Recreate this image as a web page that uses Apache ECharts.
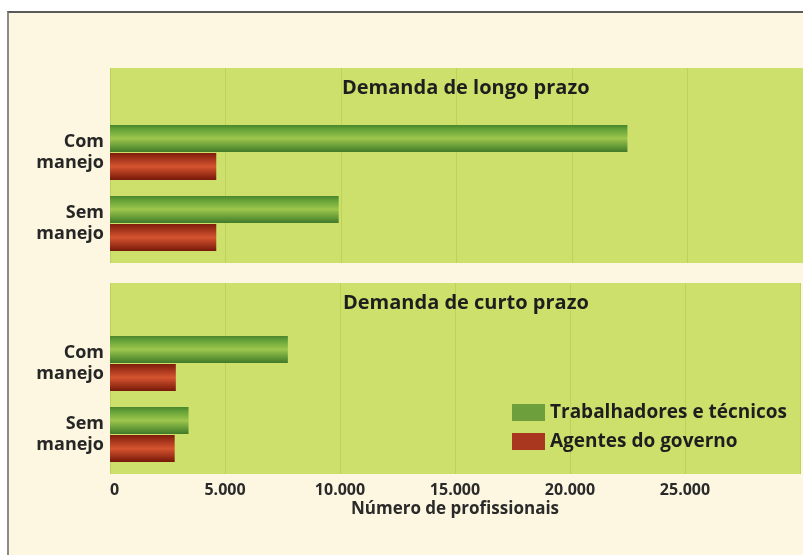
<!DOCTYPE html>
<html>
<head>
<meta charset="utf-8">
<script src="https://cdn.jsdelivr.net/npm/echarts@6/dist/echarts.min.js"></script>
<style>
html,body{margin:0;padding:0;background:#fff;}
#frame{position:absolute;left:7px;top:11px;width:796px;height:544px;background:#fdf7e1;border-top:2px solid #5a5a58;border-left:2px solid #8a8a86;}
#chart{position:absolute;left:0;top:0;width:803px;height:555px;}
</style>
</head>
<body>
<div id="frame"></div>
<div id="chart"></div>
<script>
// dados
var categorias = ['Com\nmanejo', 'Sem\nmanejo'];
var longoTrab = [22400, 9900];
var longoAgentes = [4600, 4600];
var curtoTrab = [7700, 3400];
var curtoAgentes = [2850, 2800];
var tickLabels = ['0', '5.000', '10.000', '15.000', '20.000', '25.000'];
var nomes = ['Trabalhadores e técnicos', 'Agentes do governo'];

var fonte = '"Open Sans", sans-serif';
var verde = new echarts.graphic.LinearGradient(0, 0, 0, 1, [
  { offset: 0, color: '#4a852c' },
  { offset: 0.15, color: '#62a037' },
  { offset: 0.5, color: '#9dc64d' },
  { offset: 0.85, color: '#5a9233' },
  { offset: 1, color: '#437828' }
]);
var vermelho = new echarts.graphic.LinearGradient(0, 0, 0, 1, [
  { offset: 0, color: '#7e1c0c' },
  { offset: 0.5, color: '#d5542f' },
  { offset: 1, color: '#761809' }
]);

var chart = echarts.init(document.getElementById('chart'));

function eixoFundo(gi, comLabel) {
  return {
    type: 'value', gridIndex: gi, min: 0, max: 30000, interval: 5000,
    axisLine: { show: false }, axisTick: { show: false },
    splitLine: { show: true, lineStyle: { color: '#bcd25b', width: 1 } },
    axisLabel: comLabel ? {
      show: true, margin: 8, color: '#2a2a2a', fontFamily: fonte, fontWeight: 'bold', fontSize: 16,
      alignMinLabel: 'left',
      formatter: function (v) { return tickLabels[Math.round(v / 5000)] || ''; }
    } : { show: false },
    name: comLabel ? 'Número de profissionais' : '',
    nameLocation: 'middle', nameGap: 27,
    nameTextStyle: { color: '#2a2a2a', fontFamily: fonte, fontWeight: 'bold', fontSize: 17 }
  };
}
function eixoBarra(gi) {
  return { type: 'value', gridIndex: gi, min: 0, max: 30000, show: false };
}
function eixoCat(gi) {
  return {
    type: 'category', gridIndex: gi, data: categorias, inverse: true,
    axisLine: { show: false }, axisTick: { show: false },
    axisLabel: { margin: 6, color: '#262626', fontFamily: fonte, fontWeight: 'bold', fontSize: 18, lineHeight: 21, align: 'right' }
  };
}
function eixoVazio(gi) {
  return { type: 'value', gridIndex: gi, show: false };
}
function barra(nome, gi, dados, cor) {
  return {
    name: nome, type: 'bar', xAxisIndex: gi, yAxisIndex: gi, data: dados,
    barWidth: 27, barGap: '4%', itemStyle: { color: cor }, silent: true
  };
}

chart.setOption({
  animation: false,
  title: [
    { text: 'Demanda de longo prazo', left: 337, top: 73,
      textStyle: { fontFamily: fonte, fontWeight: 'bold', fontSize: 20, color: '#1e1e1e' } },
    { text: 'Demanda de curto prazo', left: 338, top: 288,
      textStyle: { fontFamily: fonte, fontWeight: 'bold', fontSize: 20, color: '#1e1e1e' } }
  ],
  legend: {
    data: [
      { name: nomes[0], itemStyle: { color: '#6e9f3d' } },
      { name: nomes[1], itemStyle: { color: '#a9371f' } }
    ],
    orient: 'vertical', left: 507, top: 398, itemWidth: 33, itemHeight: 17, itemGap: 10,
    icon: 'rect', selectedMode: false,
    textStyle: { fontFamily: fonte, fontWeight: 'bold', fontSize: 19, color: '#1e1e1e' }
  },
  grid: [
    { left: 110, top: 68, width: 700, height: 195, show: true, backgroundColor: '#cde06c', borderWidth: 0 },
    { left: 110, top: 283, width: 700, height: 191, show: true, backgroundColor: '#cde06c', borderWidth: 0 },
    { left: 110, top: 117, width: 700, height: 142 },
    { left: 110, top: 328, width: 700, height: 142 }
  ],
  xAxis: [eixoFundo(0, false), eixoFundo(1, true), eixoBarra(2), eixoBarra(3)],
  yAxis: [eixoVazio(0), eixoVazio(1), eixoCat(2), eixoCat(3)],
  series: [
    barra(nomes[0], 2, longoTrab, verde),
    barra(nomes[1], 2, longoAgentes, vermelho),
    barra(nomes[0], 3, curtoTrab, verde),
    barra(nomes[1], 3, curtoAgentes, vermelho)
  ]
});
</script>
</body>
</html>
